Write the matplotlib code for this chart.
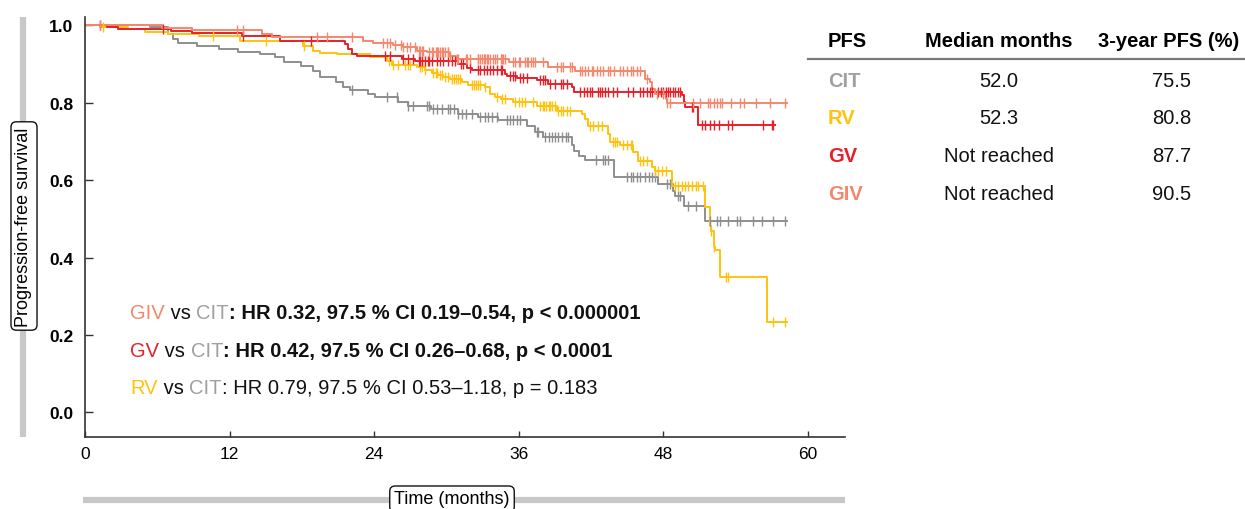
import numpy as np
import matplotlib
matplotlib.use('Agg')
import matplotlib.pyplot as plt
from matplotlib.lines import Line2D

plt.rcParams['font.family'] = ['Liberation Sans', 'DejaVu Sans']

# Kaplan-Meier step curves: (months, survival after the step)
cit_t = [0, 5.4, 6.9, 7.3, 7.7, 9.3, 11.1, 12.7, 14.5, 15.8, 16.5, 17.9, 18.9, 19.5, 20.8, 21.4,
         22.0, 23.5, 24.1, 26.0, 26.8, 28.7, 31.0, 32.6, 34.3, 36.7, 37.4, 38.0, 40.4, 40.6, 41.0,
         41.5, 43.9, 47.6, 48.8, 49.0, 49.7, 51.5]
cit_s = [1.0, 0.995, 0.979, 0.966, 0.955, 0.948, 0.940, 0.932, 0.927, 0.919, 0.906, 0.896, 0.883,
         0.867, 0.854, 0.841, 0.834, 0.823, 0.816, 0.803, 0.792, 0.785, 0.772, 0.764, 0.756, 0.741,
         0.725, 0.712, 0.691, 0.676, 0.663, 0.653, 0.609, 0.591, 0.573, 0.560, 0.532, 0.495]
cit_cens = [22.2, 25.1, 25.9, 26.8, 27.2, 28.4, 28.6, 28.9, 29.2, 29.6, 30.1, 30.3, 30.6, 31.0, 31.3,
            31.6, 32.1, 32.8, 33.2, 33.5, 33.8, 34.2, 35.0, 35.3, 35.5, 35.9, 36.1, 37.5, 37.6, 38.2,
            38.5, 38.8, 39.0, 39.3, 39.6, 39.9, 40.1, 42.4, 43.0, 43.2, 43.4, 45.0, 45.3, 45.5, 45.8,
            46.1, 46.5, 46.8, 47.1, 47.3, 48.3, 48.6, 49.2, 49.4, 50.1, 50.7, 51.9, 52.5, 52.7, 53.4,
            54.1, 54.4, 55.5, 56.2, 57.1, 58.1]

rv_t = [0, 1.25, 3.6, 5.0, 6.9, 9.5, 12.9, 18.1, 18.9, 19.5, 20.9, 23.7, 25.1, 25.5, 27.6, 28.2,
        28.8, 29.3, 29.7, 30.3, 31.3, 31.8, 33.2, 33.6, 34.0, 34.5, 35.5, 37.5, 39.2, 41.3, 41.5,
        41.8, 43.4, 43.6, 44.4, 45.5, 45.9, 47.1, 47.3, 48.7, 51.5, 51.9, 52.0, 52.2, 52.3, 52.7, 56.6]
rv_s = [1.0, 0.996, 0.990, 0.983, 0.979, 0.972, 0.960, 0.946, 0.935, 0.929, 0.925, 0.918, 0.907,
        0.899, 0.892, 0.884, 0.878, 0.872, 0.867, 0.862, 0.855, 0.847, 0.841, 0.823, 0.815, 0.810,
        0.803, 0.793, 0.780, 0.771, 0.758, 0.741, 0.720, 0.698, 0.691, 0.673, 0.650, 0.634, 0.625,
        0.585, 0.530, 0.482, 0.469, 0.428, 0.419, 0.349, 0.233]
rv_cens = [1.5, 10.6, 15.0, 18.2, 25.2, 25.6, 26.0, 26.6, 26.8, 27.0, 27.8, 28.0, 28.2, 28.9, 29.1,
           29.2, 29.5, 29.6, 29.9, 30.1, 30.5, 30.6, 30.8, 31.0, 31.1, 32.1, 32.3, 32.5, 32.6, 32.8,
           33.2, 34.2, 34.6, 34.9, 35.7, 36.0, 36.3, 36.5, 37.2, 37.8, 38.0, 38.1, 38.3, 38.5, 38.6,
           38.8, 39.0, 39.3, 39.5, 39.7, 40.0, 40.3, 41.9, 42.2, 42.6, 42.9, 43.8, 44.0, 44.2, 44.7,
           45.0, 45.3, 45.4, 46.1, 46.3, 46.7, 47.3, 47.6, 47.9, 48.2, 49.0, 49.2, 49.6, 49.8, 50.1,
           50.4, 50.7, 50.9, 51.3, 52.0, 52.2, 53.2, 53.4, 57.1, 58.1]

gv_t = [0, 1.8, 2.7, 7.1, 8.9, 13.0, 16.2, 21.6, 21.85, 22.2, 22.6, 26.3, 27.4, 31.0, 31.7, 32.1,
        34.9, 35.05, 35.9, 37.5, 38.4, 40.4, 40.6, 49.6, 49.75, 49.8, 50.9]
gv_s = [1.0, 0.996, 0.990, 0.986, 0.981, 0.973, 0.961, 0.953, 0.940, 0.927, 0.921, 0.914, 0.909,
        0.901, 0.891, 0.884, 0.875, 0.869, 0.864, 0.858, 0.849, 0.841, 0.828, 0.819, 0.802, 0.789,
        0.743]
gv_cens = [1.25, 6.5, 13.1, 18.8, 24.9, 25.3, 26.4, 26.8, 27.2, 27.7, 27.8, 28.0, 28.2, 28.5, 28.6,
           28.8, 29.2, 29.5, 29.7, 30.1, 30.5, 30.7, 31.2, 31.4, 32.0, 32.6, 32.8, 33.1, 33.4, 33.6,
           33.9, 34.2, 34.5, 34.6, 35.3, 35.5, 35.7, 36.1, 36.4, 36.7, 37.8, 38.0, 38.2, 38.6, 39.0,
           39.5, 39.7, 40.0, 41.1, 41.4, 41.7, 41.9, 42.1, 42.6, 42.8, 42.9, 43.2, 43.4, 43.8, 44.2,
           45.1, 45.5, 46.1, 46.3, 46.7, 46.9, 47.1, 47.6, 47.8, 48.0, 48.2, 48.4, 48.6, 48.8, 49.0,
           49.25, 49.4, 50.4, 50.5, 51.25, 51.5, 51.9, 52.2, 52.6, 53.4, 53.7, 56.3, 57.0, 57.1]

giv_t = [0, 6.4, 8.9, 14.7, 15.5, 23.1, 23.9, 25.6, 26.4, 27.6, 28.4, 30.2, 30.8, 35.2, 38.4, 40.7,
         46.5, 46.9, 47.1, 47.3, 48.2, 48.3]
giv_s = [1.0, 0.994, 0.987, 0.978, 0.970, 0.961, 0.955, 0.950, 0.944, 0.935, 0.931, 0.922, 0.914,
         0.905, 0.892, 0.882, 0.862, 0.854, 0.836, 0.823, 0.810, 0.799]
giv_cens = [1.25, 12.6, 13.1, 19.3, 20.1, 22.2, 24.7, 25.1, 25.3, 25.7, 26.2, 26.4, 26.7, 27.0, 27.4,
            27.7, 27.8, 28.0, 28.1, 28.6, 28.8, 28.9, 29.1, 29.2, 29.3, 29.5, 29.6, 29.7, 29.9, 30.1,
            30.15, 30.3, 30.9, 31.0, 31.6, 31.7, 32.0, 32.6, 32.65, 32.8, 33.0, 33.1, 33.2, 33.4, 33.5,
            33.6, 33.9, 34.0, 34.2, 34.5, 34.6, 34.7, 34.9, 35.5, 35.7, 36.0, 36.1, 36.5, 36.7, 36.8,
            37.0, 37.2, 37.4, 38.0, 39.2, 39.5, 39.7, 40.3, 40.45, 41.1, 41.3, 41.5, 41.8, 42.1, 42.2,
            42.5, 42.8, 43.0, 43.4, 43.6, 43.9, 44.4, 44.7, 45.0, 45.3, 45.5, 45.8, 46.1, 46.7, 47.5,
            48.0, 48.3, 48.6, 50.5, 51.1, 51.7, 51.9, 52.2, 52.5, 52.7, 52.9, 53.6, 54.4, 54.7, 55.7,
            56.9, 58.1]

arms = ['CIT', 'RV', 'GV', 'GIV']
line_colors = {'CIT': '#8e8e8e', 'RV': '#ffc20e', 'GV': '#e8202a', 'GIV': '#f4876c'}
text_colors = {'CIT': '#a0a0a0', 'RV': '#ffc20e', 'GV': '#e8202a', 'GIV': '#f4876c'}
curves = {'CIT': (cit_t, cit_s, cit_cens), 'RV': (rv_t, rv_s, rv_cens),
          'GV': (gv_t, gv_s, gv_cens), 'GIV': (giv_t, giv_s, giv_cens)}

median_months = ['52.0', '52.3', 'Not reached', 'Not reached']
pfs_3yr = ['75.5', '80.8', '87.7', '90.5']
table_header = ['PFS', 'Median months', '3-year PFS (%)']

hr_lines = [('GIV', ': HR 0.32, 97.5 % CI 0.19\u20130.54, p < 0.000001', 'bold'),
            ('GV', ': HR 0.42, 97.5 % CI 0.26\u20130.68, p < 0.0001', 'bold'),
            ('RV', ': HR 0.79, 97.5 % CI 0.53\u20131.18, p = 0.183', 'normal')]

fig = plt.figure(figsize=(12.45, 5.10), dpi=100)
ax = fig.add_axes([0.0683, 0.1418, 0.6104, 0.8223])

for arm in arms:
    t, s, cens = curves[arm]
    t = np.array(t)
    s = np.array(s)
    cens = np.array(cens)
    end = max(t[-1], cens.max()) + 0.15
    ax.step(np.append(t, end), np.append(s, s[-1]), where='post',
            color=line_colors[arm], lw=1.4, zorder=2)
    idx = np.searchsorted(t, cens, side='right') - 1
    ax.plot(cens, s[idx], ls='none', marker='|', ms=7, mew=1.0,
            color=line_colors[arm], zorder=3)

ax.set_xlim(0, 63.1)
ax.set_ylim(-0.063, 1.021)
ax.set_xticks([0, 12, 24, 36, 48, 60])
ax.set_yticks([0.0, 0.2, 0.4, 0.6, 0.8, 1.0])
ax.set_yticklabels(['0.0', '0.2', '0.4', '0.6', '0.8', '1.0'], fontweight='bold')
ax.tick_params(axis='y', direction='in', length=6, width=1, pad=8.5, labelsize=12.5, color='#333333')
ax.tick_params(axis='x', direction='in', length=4.5, width=1, pad=6.5, labelsize=12.5, color='#333333')
for side in ['top', 'right']:
    ax.spines[side].set_visible(False)
for side in ['left', 'bottom']:
    ax.spines[side].set_color('#333333')
    ax.spines[side].set_linewidth(1.2)

# hazard ratio annotations, coloured arm names
fs_hr = 14.5
y_pos = [0.259, 0.160, 0.065]
for (arm, rest, wt), yy in zip(hr_lines, y_pos):
    t1 = ax.text(3.74, yy, arm, color=text_colors[arm], fontsize=fs_hr, va='center')
    t2 = ax.annotate(' vs ', xy=(1, 0), xycoords=t1, va='bottom', fontsize=fs_hr, color='#111111')
    t3 = ax.annotate('CIT', xy=(1, 0), xycoords=t2, va='bottom', fontsize=fs_hr, color=text_colors['CIT'])
    ax.annotate(rest, xy=(1, 0), xycoords=t3, va='bottom', fontsize=fs_hr, color='#111111', fontweight=wt)

# axis labels drawn as grey bars with boxed captions
fig.add_artist(Line2D([22.7 / 1245, 22.7 / 1245], [1 - 18 / 510, 1 - 438 / 510],
                      color='#c8c8c8', lw=4.5, solid_capstyle='butt'))
fig.text(24 / 1245, 1 - 227 / 510, 'Progression-free survival', rotation=90, fontsize=13,
         ha='center', va='center',
         bbox=dict(boxstyle='round,pad=0.25,rounding_size=0.3', fc='white', ec='#111111', lw=1))
fig.add_artist(Line2D([83 / 1245, 845 / 1245], [1 - 501 / 510, 1 - 501 / 510],
                      color='#c8c8c8', lw=4.5, solid_capstyle='butt'))
fig.text(452 / 1245, 1 - 500 / 510, 'Time (months)', fontsize=13, ha='center', va='center',
         bbox=dict(boxstyle='round,pad=0.25,rounding_size=0.3', fc='white', ec='#111111', lw=1))

# summary table on the right
fs_tab = 14.5
hdr_y = 1 - 41.7 / 510
fig.text(828 / 1245, hdr_y, table_header[0], fontsize=fs_tab, fontweight='bold', ha='left', va='center')
fig.text(999 / 1245, hdr_y, table_header[1], fontsize=fs_tab, fontweight='bold', ha='center', va='center')
fig.text(1169 / 1245, hdr_y, table_header[2], fontsize=fs_tab, fontweight='bold', ha='center', va='center')
fig.add_artist(Line2D([808 / 1245, 1.0], [1 - 60 / 510, 1 - 60 / 510], color='#7a7a7a', lw=1.6))
row_y = [81.7, 119, 156.7, 195]
for arm, med, p3, ry in zip(arms, median_months, pfs_3yr, row_y):
    yy = 1 - ry / 510
    fig.text(828 / 1245, yy, arm, fontsize=fs_tab, fontweight='bold', color=text_colors[arm],
             ha='left', va='center')
    fig.text(999 / 1245, yy, med, fontsize=fs_tab, ha='center', va='center', color='#111111')
    fig.text(1171.7 / 1245, yy, p3, fontsize=fs_tab, ha='center', va='center', color='#111111')

fig.savefig('out.png', dpi=100)
